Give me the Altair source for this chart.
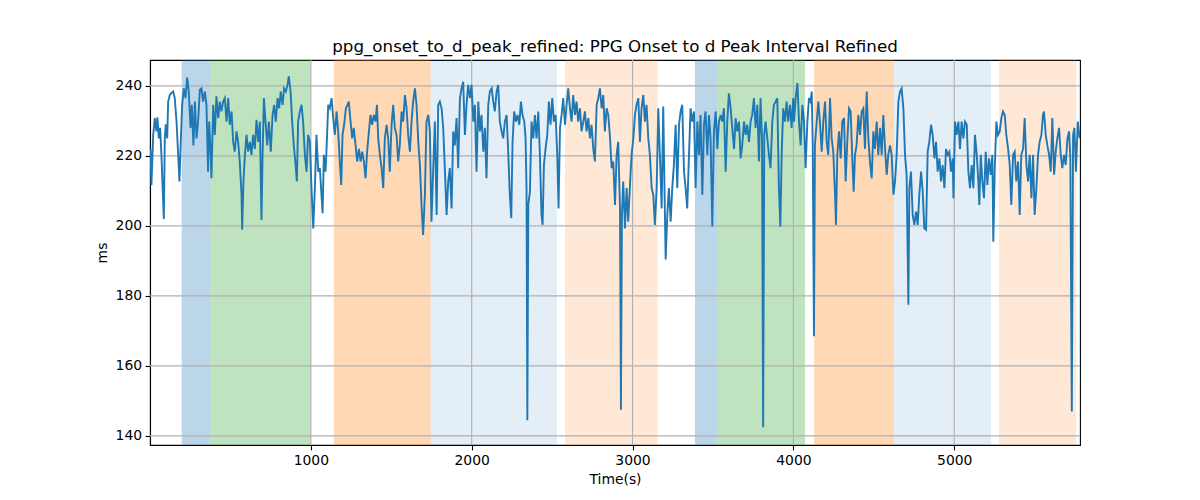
import altair as alt
import pandas as pd

TITLE = "ppg_onset_to_d_peak_refined: PPG Onset to d Peak Interval Refined"

# (time s, interval ms), in chunks
seg_1 = [
    (3, 222), (9, 211.7), (20, 226), (30, 230.8), (40, 227), (46, 231), (55, 225), (63, 228), (71, 220.3), (78, 211.7),
    (86, 202), (92, 225), (98, 229), (107, 225), (113, 235.5), (123, 237.4), (134, 238), (144, 238.4), (154, 236.5), (165, 229.8),
    (175, 220.3), (183, 212.7), (192, 225), (200, 234.6), (210, 239.3), (221, 236.5), (231, 242.4), (241, 238.4), (252, 228), (260, 234.6),
    (270, 223), (279, 235.5), (289, 225), (299, 229.8), (310, 238.9), (320, 239.3), (330, 235.5), (341, 238.4), (351, 234.6), (361, 215.5),
    (368, 229.8), (376, 222), (382, 213.6), (393, 234.6), (403, 226), (413, 237), (424, 230.8), (434, 235.5), (444, 232.7), (455, 235.5),
    (465, 236.5), (476, 229.8), (486, 236.5), (496, 228.9), (507, 232.7), (517, 224), (527, 221.2), (538, 227), (548, 224), (558, 218.4),
    (569, 208.9), (573, 198.9), (581, 212.7), (590, 220.3), (600, 226), (610, 221.2), (621, 224), (631, 220.3), (641, 226), (652, 222),
    (662, 230.3), (673, 224), (683, 229.8), (693, 201.7), (700, 220.3), (708, 236.5), (718, 229.8), (729, 223), (739, 229.8), (751, 221.2),
    (762, 231.7), (772, 234.6), (782, 229.8), (793, 236.5), (803, 233.6), (813, 238.4), (824, 234.6), (834, 239.3), (845, 238.4), (855, 240.3),
    (863, 242.7), (874, 238.4), (884, 229.8), (894, 223), (905, 217.4), (913, 212.7), (921, 229.8), (932, 232.7), (942, 234.6), (952, 229.8),
    (963, 220.3), (973, 215.5), (983, 226), (994, 224), (1004, 210.8), (1015, 199.3),
]

seg_2 = [
    (1025, 210.8), (1035, 226), (1046, 215.5), (1056, 216.5), (1066, 208.9), (1073, 203.6), (1081, 220.3), (1091, 215.5), (1097, 221.2), (1108, 234.6),
    (1118, 233.6), (1129, 236.5), (1139, 230.8), (1149, 226), (1160, 232.7), (1170, 227), (1180, 218.4), (1189, 211.7), (1197, 226), (1207, 228.9),
    (1218, 233.6), (1228, 234.6), (1236, 235.5), (1247, 229.8), (1257, 225), (1267, 228), (1278, 223), (1288, 218.4), (1299, 222), (1309, 218.4),
    (1319, 221.2), (1330, 218.4), (1340, 213.6), (1350, 221.2), (1361, 227), (1371, 231.7), (1381, 228.9), (1392, 231.7), (1402, 229.8), (1411, 234.6),
    (1419, 225), (1429, 220.3), (1440, 216.5), (1450, 210.8), (1460, 225), (1471, 228.9), (1481, 225), (1491, 215.5), (1502, 228.9), (1512, 234.6),
    (1522, 228), (1533, 226), (1543, 218.4), (1553, 223), (1564, 232.7), (1574, 229.8), (1585, 237.4), (1595, 233.6), (1605, 226), (1616, 221.2),
    (1626, 229.8), (1636, 235.5), (1647, 239.3), (1657, 234.6), (1668, 224), (1678, 217.4), (1688, 206), (1698, 197.4), (1709, 208.9), (1719, 229.8),
    (1730, 231.7), (1740, 227), (1750, 201.2), (1761, 216.5), (1771, 229.8), (1782, 203.1), (1792, 234.6), (1802, 235.5), (1813, 233.6), (1823, 228),
    (1833, 216.5), (1844, 203.1), (1854, 212.7), (1864, 216.5), (1875, 205), (1885, 227), (1895, 223), (1906, 230.8), (1916, 216.5), (1927, 236.5),
    (1937, 239.3), (1947, 241.2), (1958, 226), (1968, 234.6), (1978, 240.3), (1989, 236.5), (1999, 240.3),
]

seg_3 = [
    (2010, 229.8), (2020, 234.6), (2030, 215.5), (2041, 235.5), (2051, 227), (2061, 231.7), (2072, 221.2), (2082, 228), (2092, 213.6), (2103, 234.6),
    (2113, 238.4), (2124, 239.3), (2134, 235.5), (2144, 232.7), (2155, 238.4), (2165, 240.3), (2175, 229.8), (2186, 227), (2196, 225), (2206, 229.8),
    (2217, 231.7), (2227, 221.2), (2237, 208.9), (2246, 202.2), (2254, 224), (2264, 232.7), (2275, 229.8), (2285, 231.7), (2296, 228.9), (2306, 235.5),
    (2316, 231.7), (2327, 229.8), (2335, 225), (2341, 210.8), (2346, 144.5), (2352, 206), (2362, 209.8), (2372, 229.8), (2383, 225), (2393, 231.7),
    (2403, 225), (2414, 232.7), (2424, 220.3), (2434, 203.1), (2441, 200.3), (2449, 217.4), (2459, 222), (2470, 226), (2480, 235.5), (2490, 228.9),
    (2501, 236.5), (2511, 229.8), (2522, 231.7), (2532, 220.3), (2540, 205), (2549, 228), (2559, 231.7), (2569, 236.5), (2580, 228.9), (2590, 234.6),
    (2600, 239.3), (2611, 233.6), (2621, 229.8), (2631, 237.4), (2642, 231.7), (2652, 235.5), (2662, 229.8), (2673, 233.6), (2683, 227), (2694, 229.8),
    (2704, 232.7), (2714, 227), (2725, 230.8), (2735, 225), (2745, 228.9), (2756, 222), (2766, 218.4), (2777, 234.6), (2787, 236.5), (2797, 239.3),
    (2808, 233.6), (2818, 237.4), (2828, 227), (2839, 233.6), (2849, 231.7), (2859, 226), (2870, 216.5), (2880, 218.4), (2891, 206), (2901, 220.3),
    (2911, 224), (2922, 205), (2928, 147.5), (2934, 203.1), (2942, 212.7), (2953, 199.3), (2963, 210.8), (2973, 201.2), (2984, 211.7), (2994, 220.3),
]

seg_4 = [
    (3005, 225), (3015, 231.7), (3025, 234.6), (3036, 236.5), (3046, 224), (3056, 233.6), (3067, 237.4), (3077, 229.8), (3087, 234.6), (3098, 225),
    (3108, 220.3), (3119, 210.8), (3129, 208.9), (3139, 200.3), (3150, 210.8), (3160, 233.6), (3170, 220.3), (3181, 205), (3191, 234.1), (3201, 204.1),
    (3206, 190.4), (3216, 203.1), (3226, 210.8), (3237, 201.2), (3247, 210.8), (3257, 217.4), (3268, 228.9), (3278, 210.8), (3289, 228.9), (3299, 232.7),
    (3309, 234.6), (3320, 215.5), (3330, 210.8), (3340, 205), (3351, 220.3), (3361, 233.6), (3371, 229.8), (3382, 232.7), (3392, 210.8), (3403, 229.8),
    (3413, 220.3), (3423, 231.7), (3434, 208.9), (3444, 228.9), (3454, 232.7), (3465, 220.3), (3475, 231.7), (3485, 225), (3496, 199.8), (3506, 227),
    (3517, 232.7), (3527, 222), (3537, 229.8), (3548, 231.7), (3558, 229.8), (3568, 233.6), (3579, 215.5), (3589, 229.8), (3599, 237.9), (3610, 233.6),
    (3620, 228), (3631, 222), (3641, 230.8), (3651, 227), (3662, 229.8), (3672, 219.3), (3682, 223), (3693, 229.8), (3703, 226), (3713, 228.9),
    (3724, 224), (3734, 229.8), (3744, 231.7), (3755, 236.5), (3765, 228), (3776, 234.6), (3786, 218.4), (3796, 236.5), (3805, 225), (3812, 142.5),
    (3819, 226), (3827, 229.8), (3838, 225), (3848, 220.3), (3858, 216.5), (3869, 229.8), (3879, 234.6), (3890, 235.5), (3900, 236.5), (3910, 210.8),
    (3919, 199.8), (3927, 220.3), (3937, 233.6), (3948, 229.8), (3958, 235.5), (3968, 229.8), (3979, 234.6), (3989, 228), (3999, 236.5),
]

seg_5 = [
    (4004, 229.8), (4014, 236.5), (4025, 240.8), (4035, 229.8), (4045, 223), (4056, 234.6), (4066, 229.8), (4076, 216.5), (4087, 229.8), (4097, 236.5),
    (4107, 235.5), (4114, 238.4), (4120, 225), (4128, 168.5), (4134, 223), (4145, 229.8), (4155, 235.5), (4165, 229.8), (4176, 221.2), (4186, 229.8),
    (4197, 235.5), (4207, 224), (4217, 220.3), (4228, 236.5), (4238, 225), (4248, 221.2), (4259, 208.9), (4265, 200.3), (4273, 220.3), (4284, 227),
    (4294, 219.3), (4304, 229.8), (4315, 230.8), (4325, 212.7), (4335, 224), (4346, 233.6), (4356, 232.7), (4367, 218.4), (4375, 209.8), (4383, 220.3),
    (4393, 223), (4404, 231.7), (4414, 226), (4425, 232.7), (4435, 233.6), (4445, 222), (4456, 238.4), (4466, 225), (4476, 218.4), (4487, 213.6),
    (4497, 227), (4507, 222), (4518, 229.8), (4528, 220.3), (4539, 228), (4549, 220.3), (4559, 231.7), (4570, 222), (4580, 214.6), (4590, 220.3),
    (4601, 223), (4611, 220.3), (4622, 208.9), (4632, 212.7), (4642, 220.3), (4653, 235.5), (4663, 238.4), (4673, 239.3), (4684, 233.6), (4694, 220.3),
    (4704, 214.6), (4715, 177.5), (4721, 210.8), (4731, 215.5), (4742, 203.1), (4752, 200.3), (4763, 204.1), (4773, 200.3), (4783, 208.9), (4794, 215.5),
    (4804, 209.8), (4814, 199.3), (4825, 198.9), (4835, 221.2), (4845, 224), (4856, 228.9), (4866, 226), (4877, 219.3), (4887, 224), (4897, 215.5),
    (4908, 219.3), (4918, 212.7), (4928, 217.4), (4939, 210.8), (4949, 222), (4959, 220.3), (4970, 221.2), (4980, 215.5), (4991, 219.3), (4995, 207.9),
]

seg_6 = [
    (5005, 229.8), (5015, 226), (5026, 229.8), (5036, 222), (5046, 229.8), (5057, 225), (5067, 229.8), (5078, 228.9), (5088, 215.5), (5098, 210.8),
    (5109, 217.4), (5119, 210.8), (5129, 226), (5140, 220.3), (5150, 212.7), (5156, 206), (5165, 220.3), (5175, 212.7), (5185, 207.9), (5196, 221.2),
    (5206, 211.7), (5216, 219.3), (5227, 214.6), (5237, 220.3), (5243, 195.5), (5252, 216.5), (5262, 229.8), (5272, 226), (5283, 227), (5293, 230.8),
    (5303, 232.7), (5314, 231.7), (5324, 226), (5335, 222), (5345, 217.4), (5355, 206), (5366, 220.3), (5376, 221.2), (5386, 212.7), (5397, 218.4),
    (5407, 203.1), (5417, 220.3), (5428, 222), (5438, 230.8), (5449, 217.4), (5459, 212.7), (5469, 220.3), (5480, 207.9), (5490, 220.3), (5500, 203.1),
    (5511, 210.8), (5521, 220.3), (5531, 224), (5542, 226), (5552, 231.7), (5558, 232.7), (5569, 226), (5579, 223), (5590, 220.3), (5600, 215.5),
    (5610, 230.8), (5621, 214.6), (5631, 221.2), (5641, 225), (5652, 228), (5662, 220.3), (5672, 216.5), (5683, 220.3), (5693, 217.4), (5704, 225),
    (5714, 227), (5722, 219.3), (5731, 147), (5739, 226), (5747, 228), (5757, 215.5), (5768, 229.8), (5780, 225),
]

# shaded phases (axvspan-style)
span_start = [197, 376, 1143, 1745, 2580, 3388, 3527, 4129, 4625, 5278]
span_end = [376, 999, 1745, 2530, 3156, 3527, 4072, 4625, 5229, 5758]
span_color = ["#1f77b4", "#2ca02c", "#ff7f0e", "#1f77b4", "#ff7f0e",
              "#1f77b4", "#2ca02c", "#ff7f0e", "#1f77b4", "#ff7f0e"]
span_alpha = [0.3, 0.3, 0.3, 0.12, 0.17, 0.3, 0.3, 0.3, 0.12, 0.17]

x_ticks = [1000, 2000, 3000, 4000, 5000]
y_ticks = [140, 160, 180, 200, 220, 240]
x_range = [0, 5782]
y_range = [137.4, 247.4]

series = pd.DataFrame(seg_1 + seg_2 + seg_3 + seg_4 + seg_5 + seg_6, columns=["t", "ms"])
spans = pd.DataFrame({"start": span_start, "end": span_end, "color": span_color, "alpha": span_alpha})

xs = alt.Scale(domain=x_range, nice=False, zero=False)
ys = alt.Scale(domain=y_range, nice=False, zero=False)

shade = alt.Chart(spans).mark_rect().encode(
    alt.X("start:Q").scale(xs),
    alt.X2("end:Q"),
    alt.Color("color:N").scale(None),
    alt.Opacity("alpha:Q").scale(None),
)

grid_x = alt.Chart(pd.DataFrame({"v": x_ticks})).mark_rule(
    color="#b0b0b0", strokeWidth=1.1
).encode(alt.X("v:Q").scale(xs))
grid_y = alt.Chart(pd.DataFrame({"v": y_ticks})).mark_rule(
    color="#b0b0b0", strokeWidth=1.1
).encode(alt.Y("v:Q").scale(ys))

line = alt.Chart(series).mark_line(color="#1f77b4", strokeWidth=1.9, clip=True).encode(
    alt.X("t:Q").scale(xs).axis(values=x_ticks, format="d").title("Time(s)"),
    alt.Y("ms:Q").scale(ys).axis(values=y_ticks, format="d").title("ms"),
)

chart = (
    alt.layer(shade, grid_x, grid_y, line)
    .properties(
        width=930,
        height=385,
        title=TITLE,
        autosize=alt.AutoSizeParams(type="none"),
        padding={"left": 142, "top": 52, "right": 112, "bottom": 47},
    )
    .configure_view(stroke="black", strokeWidth=1.1)
    .configure_axis(
        grid=False,
        labelFont="DejaVu Sans",
        labelFontSize=13.9,
        labelColor="black",
        titleFont="DejaVu Sans",
        titleFontSize=13.9,
        titleFontWeight="normal",
        titleColor="black",
        domainColor="black",
        domainWidth=1.1,
        tickColor="black",
        tickWidth=1.1,
        tickSize=4.9,
        labelPadding=3.5,
    )
    .configure_axisX(titlePadding=5)
    .configure_axisY(titlePadding=6)
    .configure_title(font="DejaVu Sans", fontSize=16.7, fontWeight="normal", color="black", offset=4)
)

chart.save("out.html", embed_options={"renderer": "svg", "actions": False})
